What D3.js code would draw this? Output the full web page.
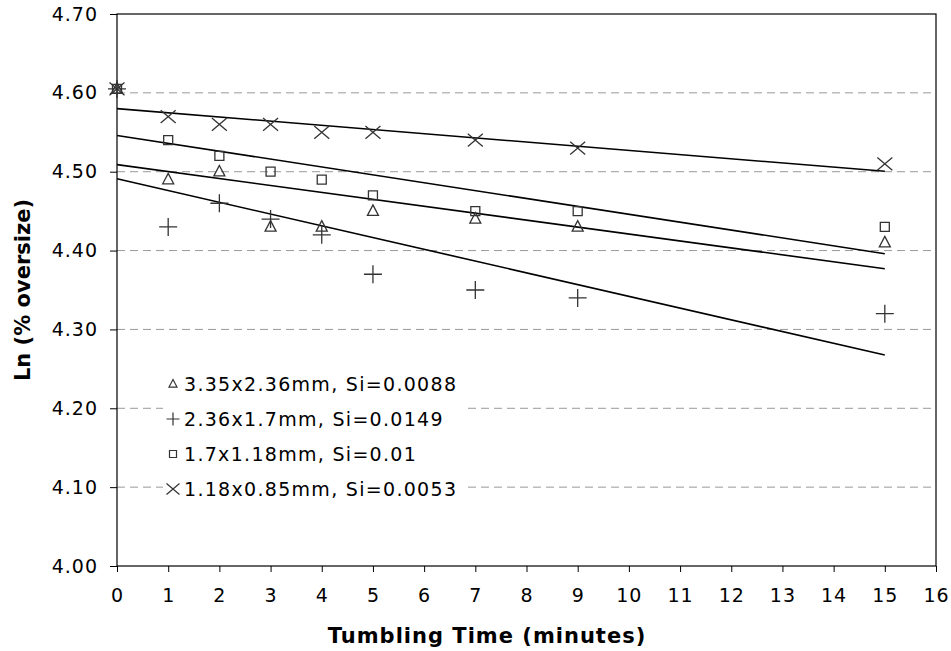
<!DOCTYPE html>
<html><head><meta charset="utf-8">
<script src="https://cdn.jsdelivr.net/npm/d3@7"></script>
<style>body{margin:0;background:#fff}svg{display:block}</style>
</head><body>
<svg id="c" width="951" height="651"></svg>
<script>
const times = [0, 1, 2, 3, 4, 5, 7, 9, 15];
const seriesNames = ["3.35x2.36mm, Si=0.0088", "2.36x1.7mm, Si=0.0149", "1.7x1.18mm, Si=0.01", "1.18x0.85mm, Si=0.0053"];
const seriesSymbols = ["triangle", "plus", "square", "cross"];
const triangleVals = [4.605, 4.49, 4.50, 4.43, 4.43, 4.45, 4.44, 4.43, 4.41];
const plusVals     = [4.605, 4.43, 4.46, 4.44, 4.42, 4.37, 4.35, 4.34, 4.32];
const squareVals   = [4.605, 4.54, 4.52, 4.50, 4.49, 4.47, 4.45, 4.45, 4.43];
const crossVals    = [4.605, 4.57, 4.56, 4.56, 4.55, 4.55, 4.54, 4.53, 4.51];
const trendIntercepts = [4.509, 4.491, 4.546, 4.580];
const trendSlopes = [-0.0088, -0.0149, -0.0100, -0.0053];
const trendRange = [0, 15];
const xTicks = d3.range(0, 17, 1);
const yTicks = [4.00, 4.10, 4.20, 4.30, 4.40, 4.50, 4.60, 4.70];

const allVals = [triangleVals, plusVals, squareVals, crossVals];
const svg = d3.select("#c");
const x = d3.scaleLinear().domain([0, 16]).range([117, 936]);
const y = d3.scaleLinear().domain([4.0, 4.7]).range([566, 14]);
const font = "'DejaVu Sans', Verdana, sans-serif";
const mk = "#333";

// gridlines
svg.append("g").selectAll("line").data(yTicks.slice(1, -1)).join("line")
  .attr("x1", x(0)).attr("x2", x(16)).attr("y1", d => y(d)).attr("y2", d => y(d))
  .attr("stroke", "#999").attr("stroke-width", 1).attr("stroke-dasharray", "8,5");

// axes
const yAxis = svg.append("g").attr("transform", `translate(${x(0)},0)`)
  .call(d3.axisLeft(y).tickValues(yTicks).tickFormat(d3.format(".2f")).tickSize(7).tickPadding(12));
const xAxis = svg.append("g").attr("transform", `translate(0,${y(4.0)})`)
  .call(d3.axisBottom(x).tickValues(xTicks).tickFormat(d3.format("d")).tickSize(6).tickPadding(6));
[yAxis, xAxis].forEach(g => {
  g.select(".domain").remove();
  g.selectAll("line").attr("stroke", "#000");
  g.selectAll("text").attr("font-family", font).attr("font-size", 19).attr("letter-spacing", 1).attr("fill", "#000");
});
xAxis.selectAll("text").attr("dy", null).attr("y", 36);
// frame
svg.append("rect").attr("x", x(0)).attr("y", y(4.7)).attr("width", x(16) - x(0)).attr("height", y(4.0) - y(4.7))
  .attr("fill", "none").attr("stroke", "#000").attr("stroke-width", 1.2);

// trend lines
svg.append("g").selectAll("line").data(trendIntercepts).join("line")
  .attr("x1", x(trendRange[0])).attr("x2", x(trendRange[1]))
  .attr("y1", (d, i) => y(d + trendSlopes[i] * trendRange[0]))
  .attr("y2", (d, i) => y(d + trendSlopes[i] * trendRange[1]))
  .attr("stroke", "#000").attr("stroke-width", 1.6);

function symbolPath(type, s) {
  if (type === "triangle") { const h = s * 0.95; return `M0,${-h*0.6}L${s/2},${h*0.4}L${-s/2},${h*0.4}Z`; }
  if (type === "square") { const a = s / 2; return `M${-a},${-a}H${a}V${a}H${-a}Z`; }
  if (type === "plus") { const a = s / 2; return `M${-a},0H${a}M0,${-a}V${a}`; }
  if (type === "cross") { const a = s / 2; return `M${-a},${-a*0.85}L${a},${a*0.85}M${-a},${a*0.85}L${a},${-a*0.85}`; }
}
const markerSize = {triangle: 11, square: 9, plus: 18, cross: 15};
const legendSize = {triangle: 8, square: 7, plus: 13, cross: 13};

allVals.forEach((vals, si) => {
  const type = seriesSymbols[si];
  svg.append("g").selectAll("path").data(vals).join("path")
    .attr("transform", (d, i) => `translate(${x(times[i])},${y(d)})`)
    .attr("d", symbolPath(type, markerSize[type]))
    .attr("fill", "none").attr("stroke", mk).attr("stroke-width", 1.3);
});

// legend
const lg = svg.append("g");
lg.append("rect").attr("x", 163).attr("y", 366).attr("width", 300).attr("height", 140).attr("fill", "#fff");
seriesNames.forEach((name, i) => {
  const cy = 384 + i * 35;
  const type = seriesSymbols[i];
  lg.append("path").attr("transform", `translate(173,${cy})`).attr("d", symbolPath(type, legendSize[type]))
    .attr("fill", "none").attr("stroke", mk).attr("stroke-width", 1.2);
  lg.append("text").attr("x", 184).attr("y", cy).attr("dy", "0.36em")
    .attr("font-family", font).attr("font-size", 19).attr("letter-spacing", 1.3).attr("fill", "#000").text(name);
});

// titles
svg.append("text").attr("x", 487).attr("y", 643).attr("text-anchor", "middle")
  .attr("font-family", font).attr("font-size", 21).attr("letter-spacing", 1).attr("font-weight", "bold").text("Tumbling Time (minutes)");
svg.append("text").attr("transform", `translate(30,${(y(4.0) + y(4.7)) / 2}) rotate(-90)`).attr("text-anchor", "middle")
  .attr("font-family", font).attr("font-size", 21).attr("font-weight", "bold").text("Ln (% oversize)");
</script>
</body></html>
